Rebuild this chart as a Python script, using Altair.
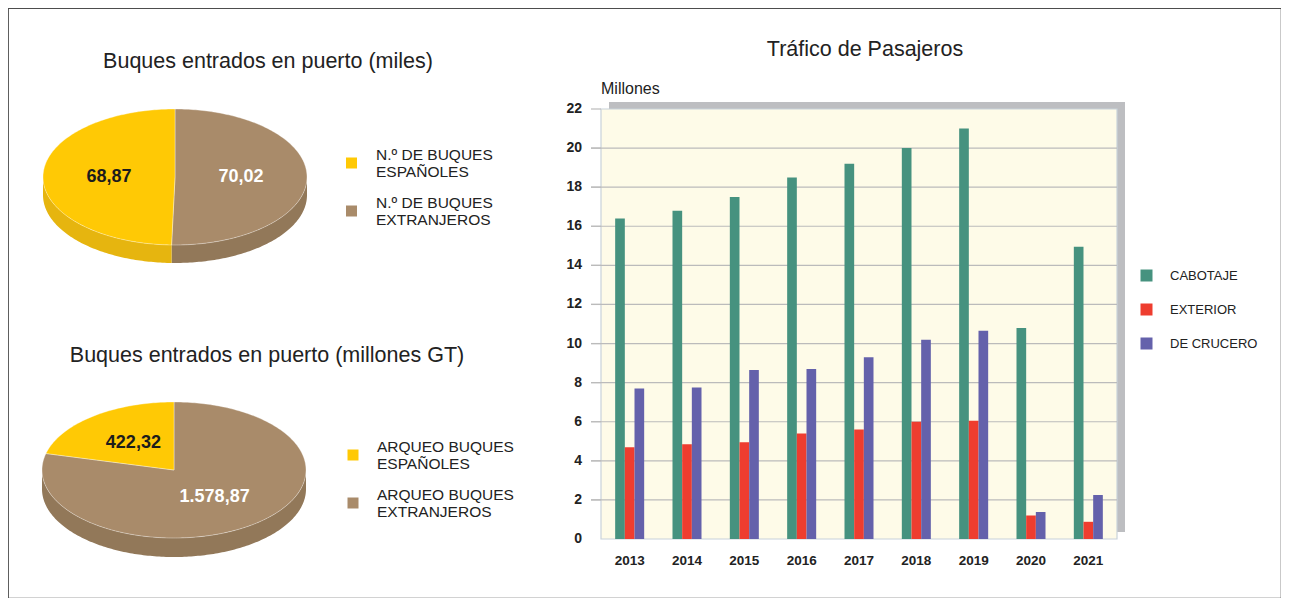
import altair as alt
import numpy as np
import pandas as pd

# ---------------- data ----------------
years = ["2013", "2014", "2015", "2016", "2017", "2018", "2019", "2020", "2021"]
series_names = ["CABOTAJE", "EXTERIOR", "DE CRUCERO"]
cabotaje = [16.4, 16.8, 17.5, 18.5, 19.2, 20.0, 21.0, 10.8, 14.95]
exterior = [4.7, 4.85, 4.95, 5.4, 5.6, 6.0, 6.05, 1.2, 0.88]
crucero = [7.7, 7.75, 8.65, 8.7, 9.3, 10.2, 10.65, 1.38, 2.25]
y_ticks = [0, 2, 4, 6, 8, 10, 12, 14, 16, 18, 20, 22]
bar_title = "Tráfico de Pasajeros"
bar_unit = "Millones"

pie1_title = "Buques entrados en puerto (miles)"
pie1_cats = ["N.º DE BUQUES|ESPAÑOLES", "N.º DE BUQUES|EXTRANJEROS"]
pie1_vals = [68.87, 70.02]

pie2_title = "Buques entrados en puerto (millones GT)"
pie2_cats = ["ARQUEO BUQUES|ESPAÑOLES", "ARQUEO BUQUES|EXTRANJEROS"]
pie2_vals = [422.32, 1578.87]

# ---------------- styles ----------------
FONT = "Liberation Sans, Arial, sans-serif"
NARROW = "Liberation Sans Narrow, Arial Narrow, Liberation Sans, sans-serif"
SERIES_COLORS = ["#46927F", "#EE3D2F", "#6461AB"]
PIE_TOP = ["#FFC905", "#A98B6A"]
PIE_SIDE = ["#E6B50F", "#927859"]
TXT = "#222222"


def fmt_es(v):
    s = f"{v:,.2f}"
    return s.replace(",", "X").replace(".", ",").replace("X", ".")


one = pd.DataFrame({"k": [0]})

# ---------------- bar chart ----------------
bars_df = pd.DataFrame(
    [
        {"year": y, "serie": s, "value": v}
        for s, vals in zip(series_names, [cabotaje, exterior, crucero])
        for y, v in zip(years, vals)
    ]
)
ticks_df = pd.DataFrame({"tick": y_ticks, "lab": [str(t) for t in y_ticks]})
years_df = pd.DataFrame({"year": years})

bx = alt.X(
    "year:N",
    scale=alt.Scale(domain=years, range=[593, 1109], paddingInner=0.494, paddingOuter=0.247),
    axis=None,
)
by_scale = alt.Scale(domain=[0, 22], range=[531, 101], nice=False, zero=True)

shadow = alt.Chart(one).mark_rect(color="#BDBEC1").encode(
    x=alt.value(601), x2=alt.value(1117), y=alt.value(94), y2=alt.value(524)
)
plotbg = alt.Chart(one).mark_rect(color="#FEFBE8", stroke="#C8D2DA", strokeWidth=1.2).encode(
    x=alt.value(593), x2=alt.value(1109), y=alt.value(101), y2=alt.value(531)
)
grid = alt.Chart(ticks_df).transform_filter("datum.tick > 0 && datum.tick < 22").mark_rule(
    color="#BBBBBB", strokeWidth=1.2
).encode(y=alt.Y("tick:Q", scale=by_scale, axis=None), x=alt.value(583), x2=alt.value(1109))
tickmarks = alt.Chart(ticks_df).transform_filter("datum.tick > 0").mark_rule(
    color="#BBBBBB", strokeWidth=1.2
).encode(y=alt.Y("tick:Q", scale=by_scale, axis=None), x=alt.value(583), x2=alt.value(593))
bars = alt.Chart(bars_df).mark_bar().encode(
    x=bx,
    xOffset=alt.XOffset("serie:N", scale=alt.Scale(domain=series_names, paddingInner=0, paddingOuter=0)),
    y=alt.Y("value:Q", scale=by_scale, axis=None),
    color=alt.Color(
        "serie:N",
        scale=alt.Scale(domain=series_names, range=SERIES_COLORS),
        legend=alt.Legend(
            orient="none", legendX=1132, legendY=261, title=None,
            symbolType="square", symbolSize=144, symbolStrokeWidth=0,
            labelFontSize=13, labelFont=FONT, labelColor=TXT,
            labelOffset=17, rowPadding=20,
        ),
    ),
)
ylabels = alt.Chart(ticks_df).mark_text(
    align="right", baseline="middle", font=NARROW, fontWeight="bold", fontSize=14, color=TXT
).encode(y=alt.Y("tick:Q", scale=by_scale, axis=None), x=alt.value(574), text="lab:N")
xlabels = alt.Chart(years_df).mark_text(
    align="center", baseline="middle", font=NARROW, fontWeight="bold", fontSize=13.5, color=TXT
).encode(x=bx, y=alt.value(553), text="year:N")

bars_group = alt.layer(shadow, plotbg, grid, tickmarks, bars, ylabels, xlabels)


# ---------------- pies (3D look through x/y scales) ----------------
def pie_group(cats, vals, cx, cy, rx, ry, depth_px):
    total = float(sum(vals))
    d = depth_px / ry
    top, side, lab = [], [], []
    a0 = 0.0
    for cat, v in reversed(list(zip(cats, vals))):
        a1 = a0 + 360.0 * v / total
        angs = np.radians(np.linspace(a0, a1, int(a1 - a0) + 2))
        top.append({"cat": cat, "i": 0, "px": 0.0, "py": 0.0})
        for k, a in enumerate(angs, start=1):
            top.append({"cat": cat, "i": k, "px": float(np.sin(a)), "py": float(np.cos(a))})
        top.append({"cat": cat, "i": len(angs) + 1, "px": 0.0, "py": 0.0})
        s, e = max(a0, 90.0), min(a1, 270.0)
        if e > s:
            for a in np.radians(np.linspace(s, e, int(e - s) + 2)):
                side.append({"cat": cat, "px": float(np.sin(a)), "py": float(np.cos(a)),
                             "py2": float(np.cos(a) - d)})
        m = np.radians((a0 + a1) / 2)
        lab.append({"cat": cat, "px": float(0.5 * np.sin(m)), "py": float(0.5 * np.cos(m)),
                    "txt": fmt_es(v)})
        a0 = a1
    xs = alt.Scale(domain=[-1, 1], range=[cx - rx, cx + rx], nice=False, zero=False)
    ys = alt.Scale(domain=[-1, 1], range=[cy + ry, cy - ry], nice=False, zero=False)
    X = alt.X("px:Q", scale=xs, axis=None)
    Y = alt.Y("py:Q", scale=ys, axis=None)
    side_l = alt.Chart(pd.DataFrame(side)).mark_area().encode(
        x=X, y=Y, y2="py2:Q",
        fill=alt.Fill("cat:N", scale=alt.Scale(domain=cats, range=PIE_SIDE), legend=None),
    )
    top_l = alt.Chart(pd.DataFrame(top)).mark_line(
        filled=True, stroke="#ffffff", strokeWidth=0.7, strokeOpacity=0.5
    ).encode(
        x=X, y=Y, order="i:Q",
        color=alt.Color("cat:N", scale=alt.Scale(domain=cats, range=PIE_TOP), legend=None),
    )
    lab_df = pd.DataFrame(lab)
    t_dark = alt.Chart(lab_df).transform_filter(alt.datum.cat == cats[0]).mark_text(
        font=FONT, fontSize=18, fontWeight="bold", color="#1c1c1c"
    ).encode(x=X, y=Y, text="txt:N")
    t_light = alt.Chart(lab_df).transform_filter(alt.datum.cat == cats[1]).mark_text(
        font=FONT, fontSize=18, fontWeight="bold", color="#ffffff"
    ).encode(x=X, y=Y, text="txt:N")
    return alt.layer(side_l, top_l, t_dark, t_light)


def pie_legend(cats, sym_x, text_x, y0, y1):
    leg_df = pd.DataFrame({"cat": cats})
    ly = alt.Y("cat:N", scale=alt.Scale(type="point", domain=cats, range=[y0, y1], padding=0), axis=None)
    sq = alt.Chart(leg_df).mark_square(size=121, opacity=1, strokeWidth=0).encode(
        y=ly, x=alt.value(sym_x),
        color=alt.Color("cat:N", scale=alt.Scale(domain=cats, range=PIE_TOP), legend=None),
    )
    tx = alt.Chart(leg_df).mark_text(
        align="left", baseline="middle", lineBreak="|", lineHeight=17, dy=-8.5,
        font=FONT, fontSize=15.5, color=TXT,
    ).encode(y=ly, x=alt.value(text_x), text="cat:N")
    return alt.layer(sq, tx)


pie1 = pie_group(pie1_cats, pie1_vals, 167, 169, 132, 68, 18)
pie2 = pie_group(pie2_cats, pie2_vals, 166, 462, 132, 68, 19)
leg1 = pie_legend(pie1_cats, 343.5, 368, 155, 203)
leg2 = pie_legend(pie2_cats, 345, 369, 447, 495)


def title_text(txt, x, y, size, align="center"):
    return alt.Chart(pd.DataFrame({"t": [txt]})).mark_text(
        font=FONT, fontSize=size, color=TXT, align=align, baseline="middle"
    ).encode(x=alt.value(x), y=alt.value(y), text="t:N")


t_pie1 = title_text(pie1_title, 260, 54, 21.5)
t_pie2 = title_text(pie2_title, 259, 348, 21.5)
t_bar = title_text(bar_title, 857, 42, 21.5)
t_unit = title_text(bar_unit, 593, 81, 16, align="left")

chart = (
    alt.layer(bars_group, pie1, pie2, leg1, leg2, t_pie1, t_pie2, t_bar, t_unit)
    .resolve_scale(x="independent", y="independent", color="independent", fill="independent")
    .properties(width=1273, height=590, padding=0, autosize=alt.AutoSizeParams(type="none"))
    .configure_view(stroke="#4d4d4d", strokeWidth=1.2)
)

chart.save("out.html", embed_options={"renderer": "svg", "actions": False})
